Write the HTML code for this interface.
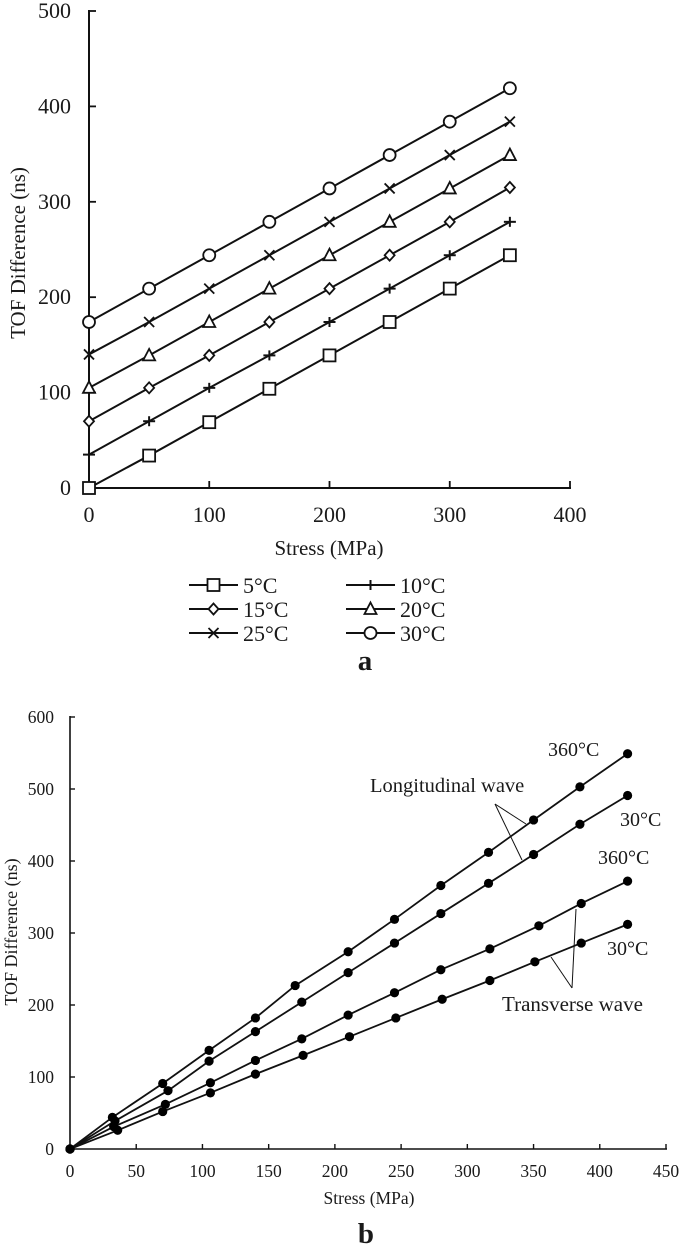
<!DOCTYPE html>
<html>
<head>
<meta charset="utf-8">
<style>
html,body{margin:0;padding:0;background:#fff;width:685px;height:1259px;overflow:hidden}
svg{display:block;filter:blur(0.35px)}
text{font-family:"Liberation Serif",serif;fill:#1a1a1a}
</style>
</head>
<body>
<svg id="fig" xmlns="http://www.w3.org/2000/svg" width="685" height="1259" viewBox="0 0 685 1259"></svg>
<script>
// Panel a data
const aStress = [0, 50, 100, 150, 200, 250, 300, 350];
const aXTicks = [0, 100, 200, 300, 400];
const aYTicks = [0, 100, 200, 300, 400, 500];
const aLabels = ['5°C', '10°C', '15°C', '20°C', '25°C', '30°C'];
const a5 = [0, 34, 69, 104, 139, 174, 209, 244];
const a10 = [35, 70, 105, 139, 174, 209, 244, 279];
const a15 = [70, 105, 139, 174, 209, 244, 279, 315];
const a20 = [105, 139, 174, 209, 244, 279, 314, 349];
const a25 = [140, 174, 209, 244, 279, 314, 349, 384];
const a30 = [174, 209, 244, 279, 314, 349, 384, 419];
// Panel b data
const bXTicks = [0, 50, 100, 150, 200, 250, 300, 350, 400, 450];
const bYTicks = [0, 100, 200, 300, 400, 500, 600];
const bL360x = [0, 32, 70, 105, 140, 170, 210, 245, 280, 316, 350, 385, 421];
const bL360y = [0, 44, 91, 137, 182, 227, 274, 319, 366, 412, 457, 503, 549];
const bL30x = [0, 34, 74, 105, 140, 175, 210, 245, 280, 316, 350, 385, 421];
const bL30y = [0, 39, 81, 122, 163, 204, 245, 286, 327, 369, 409, 451, 491];
const bT360x = [0, 33, 72, 106, 140, 175, 210, 245, 280, 317, 354, 386, 421];
const bT360y = [0, 31, 62, 92, 123, 153, 186, 217, 249, 278, 310, 341, 372];
const bT30x = [0, 36, 70, 106, 140, 176, 211, 246, 281, 317, 351, 386, 421];
const bT30y = [0, 26, 52, 78, 104, 130, 156, 182, 208, 234, 260, 286, 312];

const NS = 'http://www.w3.org/2000/svg';
const svg = document.getElementById('fig');
const INK = '#111';
function mk(tag, attrs, parent) {
  const e = document.createElementNS(NS, tag);
  for (const k in attrs) e.setAttribute(k, attrs[k]);
  (parent || svg).appendChild(e);
  return e;
}
function group(name) {
  const g = mk('g', {});
  
  
  return g;
}
function label(str, x, y, size, anchor, parent, extra) {
  const t = mk('text', Object.assign({x: x, y: y, 'font-size': size, 'text-anchor': anchor}, extra || {}), parent);
  t.textContent = str;
  return t;
}
function line(x1, y1, x2, y2, w, parent) {
  return mk('line', {x1: x1, y1: y1, x2: x2, y2: y2, stroke: INK, 'stroke-width': w}, parent);
}

// Axis functions
const ax = v => 89 + v * (570 - 89) / 400;
const ay = v => 488 - v * (488 - 11) / 500;
const bx = v => 70 + v * (666 - 70) / 450;
const by = v => 1149 - v * (1149 - 717) / 600;

function marker(kind, x, y, g) {
  const style = {fill: '#fff', stroke: INK, 'stroke-width': 1.8};
  if (kind === 'square') mk('rect', Object.assign({x: x - 6, y: y - 6, width: 12, height: 12}, style), g);
  if (kind === 'plus') {
    line(x - 6, y, x + 6, y, 2, g);
    line(x, y - 5, x, y + 5, 2, g);
  }
  if (kind === 'diamond') mk('polygon', Object.assign({points: [x, y - 5.5, x + 5, y, x, y + 5.5, x - 5, y].join(',')}, style), g);
  if (kind === 'triangle') mk('polygon', Object.assign({points: [x, y - 6.5, x + 6, y + 5, x - 6, y + 5].join(',')}, style), g);
  if (kind === 'cross') {
    line(x - 5, y - 5, x + 5, y + 5, 1.8, g);
    line(x - 5, y + 5, x + 5, y - 5, 1.8, g);
  }
  if (kind === 'circle') mk('circle', Object.assign({cx: x, cy: y, r: 6}, style), g);
}

// Panel a axes
const aAxes = group('panel-a-axes');
line(89, 10, 89, 489, 2, aAxes);
line(88, 488, 571, 488, 2, aAxes);
aXTicks.forEach(v => {
  line(ax(v), 488, ax(v), 481, 1.8, aAxes);
  const t = label(String(v), ax(v), 522, 22, 'middle', aAxes);
  
  
});
aYTicks.forEach(v => {
  line(89, ay(v), 96, ay(v), 1.8, aAxes);
  const t = label(String(v), 71, ay(v) + 7, 22, 'end', aAxes);
  
  
});
const aXT = label('Stress (MPa)', 329, 555, 21, 'middle');


const aYT = label('TOF Difference (ns)', 0, 0, 21, 'middle', svg, {transform: 'translate(25,253) rotate(-90)'});



// Panel a series
const aSeries = [[a5, 'square'], [a10, 'plus'], [a15, 'diamond'], [a20, 'triangle'], [a25, 'cross'], [a30, 'circle']];
aSeries.forEach((s, i) => {
  const g = group('series-' + aLabels[i].replace('°C', 'c'));
  mk('polyline', {points: aStress.map((v, j) => ax(v) + ',' + ay(s[0][j])).join(' '), fill: 'none', stroke: INK, 'stroke-width': 2}, g);
  aStress.forEach((v, j) => marker(s[1], ax(v), ay(s[0][j]), g));
});

// Legend
const legendRows = [585, 609, 633];
const legendCols = [189, 346];
aSeries.forEach((s, i) => {
  const g = group('legend-entry');
  const lx = legendCols[i % 2];
  const ly = legendRows[Math.floor(i / 2)];
  line(lx, ly, lx + 49, ly, 2, g);
  marker(s[1], lx + 24.5, ly, g);
  label(aLabels[i], lx + 54, ly + 8, 22, 'start', g);
});
const capA = label('a', 365, 670, 29, 'middle', svg, {'font-weight': 'bold'});



// Panel b axes
const bAxes = group('panel-b-axes');
line(70, 716, 70, 1150, 1.6, bAxes);
line(69, 1149, 667, 1149, 1.6, bAxes);
bXTicks.forEach(v => {
  line(bx(v), 1149, bx(v), 1144, 1.4, bAxes);
  const t = label(String(v), bx(v), 1177, 17.5, 'middle', bAxes);
  
  
});
bYTicks.forEach(v => {
  line(70, by(v), 75, by(v), 1.4, bAxes);
  const t = label(String(v), 54, by(v) + 6, 17.5, 'end', bAxes);
  
  
});
const bXT = label('Stress (MPa)', 369, 1204, 17.5, 'middle');


const bYT = label('TOF Difference (ns)', 0, 0, 18, 'middle', svg, {transform: 'translate(17,932) rotate(-90)'});



// Panel b series
const bSeries = [['longitudinal-360c', bL360x, bL360y], ['longitudinal-30c', bL30x, bL30y], ['transverse-360c', bT360x, bT360y], ['transverse-30c', bT30x, bT30y]];
bSeries.forEach(s => {
  const g = group('series-' + s[0]);
  mk('polyline', {points: s[1].map((v, j) => bx(v) + ',' + by(s[2][j])).join(' '), fill: 'none', stroke: INK, 'stroke-width': 1.8}, g);
  s[1].forEach((v, j) => mk('circle', {cx: bx(v), cy: by(s[2][j]), r: 4.6, fill: '#000'}, g));
});

// Panel b annotations
const notes = group('panel-b-annotations');
label('360°C', 548, 756, 20, 'start', notes);
label('Longitudinal wave', 370, 792, 20.5, 'start', notes);
label('30°C', 620, 826, 20, 'start', notes);
label('360°C', 598, 864, 20, 'start', notes);
label('30°C', 607, 955, 20, 'start', notes);
label('Transverse wave', 502, 1011, 21, 'start', notes);
line(495, 804, 526, 824, 1, notes);
line(495, 804, 522, 860, 1, notes);
line(576, 909, 572, 988, 1, notes);
line(551, 957, 572, 988, 1, notes);
const capB = label('b', 366, 1243, 29, 'middle', svg, {'font-weight': 'bold'});


</script>
</body>
</html>
